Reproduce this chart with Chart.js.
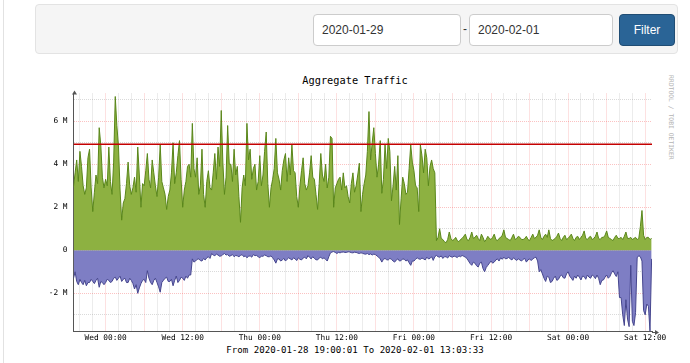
<!DOCTYPE html>
<html><head><meta charset="utf-8">
<script src="https://cdn.jsdelivr.net/npm/chart.js@4.4.1/dist/chart.umd.min.js"></script>
<style>
html,body{margin:0;padding:0;width:690px;height:363px;overflow:hidden;background:#fff;font-family:"Liberation Sans",Arial,sans-serif;}
#leftline{position:absolute;left:3px;top:0;width:1px;height:363px;background:#e2e2e2;}
#panel{position:absolute;left:35px;top:4px;width:643px;height:50px;background:#f5f5f5;border:1px solid #e3e3e3;border-radius:4px;box-sizing:border-box;}
.inp{position:absolute;top:14px;height:32px;box-sizing:border-box;border:1px solid #ccc;border-radius:4px;background:#fff;font-size:12px;padding-left:8px;line-height:30px;color:#333;}
#dash{position:absolute;left:463px;top:22px;font-size:12px;color:#333;}
#btn{position:absolute;left:619px;top:14px;width:56px;height:32px;box-sizing:border-box;background:#2a6496;border:1px solid #204d74;border-radius:4px;color:#fff;font-size:12px;text-align:center;line-height:30px;}
#wrap{position:absolute;left:0;top:0;width:690px;height:363px;}
.mono{position:absolute;font-family:"DejaVu Sans Mono",monospace;color:#000;white-space:nowrap;}
#title{left:0;width:710px;text-align:center;top:74px;font-size:10.3px;}
#foot{left:0;width:710px;text-align:center;top:345px;font-size:9.1px;}
#wm{left:667px;top:75px;font-size:6.4px;color:#b4b4b4;writing-mode:vertical-rl;}
</style></head>
<body>
<div id="leftline"></div>
<div id="panel"></div>
<div class="inp" style="left:313px;width:148px;">2020-01-29</div>
<div id="dash">-</div>
<div class="inp" style="left:469px;width:144px;">2020-02-01</div>
<div id="btn">Filter</div>
<div class="mono" id="title">Aggregate Traffic</div>
<div class="mono" id="foot">From 2020-01-28 19:00:01 To 2020-02-01 13:03:33</div>
<div class="mono" id="wm">RRDTOOL / TOBI OETIKER</div>
<div id="wrap"><canvas id="c"></canvas></div>
<script>
// time axis in hours since 2020-01-28 00:00
const startHour = 19;      // first sample 2020-01-28 19:00
const stepHours = 0.25;    // sample spacing (15 min)
const endHour = 109.06;    // 2020-02-01 13:03:33
const xTickHours = [20,22,24,26,28,30,32,34,36,38,40,42,44,46,48,50,52,54,56,58,60,62,64,66,68,70,72,74,76,78,80,82,84,86,88,90,92,94,96,98,100,102,104,106,108];
const xTickLabels = {24:'Wed 00:00',36:'Wed 12:00',48:'Thu 00:00',60:'Thu 12:00',72:'Fri 00:00',84:'Fri 12:00',96:'Sat 00:00',108:'Sat 12:00'};
const yTicks = [-3,-2,-1,0,1,2,3,4,5,6,7];
const yTickLabels = {'6':'6 M','4':'4 M','2':'2 M','0':'0','-2':'-2 M'};
// traffic in M
const inbound = [
2.96,3.6,4.2,3.2,4.6,3.9,3.0,2.6,2.9,4.3,4.7,2.9,1.8,2.7,3.5,3.1,5.7,4.9,3.4,2.9,
3.3,3.0,4.8,3.2,2.6,4.1,7.15,5.8,4.85,2.8,1.4,2.2,2.4,3.1,4.1,3.0,2.6,2.9,3.4,2.7,
4.8,3.5,2.0,3.1,3.0,3.7,4.5,3.3,2.9,4.2,3.6,3.0,2.5,3.4,4.9,3.2,2.9,2.6,1.9,2.5,
2.8,3.6,5.0,3.1,3.6,4.4,5.1,3.3,2.0,2.8,3.2,3.9,4.0,3.4,5.9,3.8,3.4,4.3,2.6,3.0,
4.7,2.6,2.0,3.2,3.7,2.9,2.8,3.6,4.5,3.3,4.8,3.9,6.5,4.1,2.6,3.4,5.8,4.0,4.0,3.2,
4.7,3.5,3.9,2.5,1.3,2.9,3.5,3.0,5.9,4.2,4.7,3.3,3.8,4.0,2.8,3.2,4.4,3.0,3.5,4.6,
5.5,3.1,2.0,2.9,3.3,3.8,5.2,3.6,3.3,2.8,3.7,4.2,4.5,3.2,4.3,3.5,4.9,3.7,3.6,2.5,
2.0,3.0,3.7,4.3,3.1,2.8,3.0,3.6,4.4,3.4,3.3,2.6,1.9,3.1,4.5,3.5,3.2,4.0,2.9,3.4,
5.3,5.2,2.0,2.9,3.1,3.3,3.4,2.8,3.6,2.9,3.0,2.5,2.2,3.1,3.6,2.7,3.0,3.5,4.05,1.8,
2.6,3.1,3.5,4.6,6.45,4.2,5.0,5.7,4.5,3.4,4.0,5.1,2.65,3.3,4.9,3.8,5.2,4.6,2.3,3.0,
3.9,2.8,4.4,1.2,2.4,3.4,3.1,2.6,2.7,3.8,4.9,4.1,3.7,3.0,2.9,1.8,4.9,4.4,3.6,4.7,
4.3,3.0,3.9,4.2,3.8,3.6,
0.45,0.6,1.0,0.55,0.5,0.4,0.35,0.5,0.85,0.55,0.45,0.5,0.6,0.45,
0.4,0.5,0.55,0.65,0.75,0.5,0.45,0.6,0.85,0.55,0.6,0.7,0.55,0.45,0.75,0.6,0.4,0.5,0.65,0.55,
0.5,0.6,0.75,0.5,0.45,0.55,0.6,0.7,0.95,0.6,0.55,0.5,0.45,0.6,0.75,0.5,0.55,0.65,0.6,0.5,
0.5,0.55,0.65,0.5,0.45,0.6,0.75,0.55,0.6,0.7,0.95,0.6,0.5,0.65,0.75,0.6,0.95,0.55,0.45,0.5,
0.55,0.65,0.8,0.55,0.45,0.6,0.7,0.5,0.55,0.65,0.75,0.55,0.45,0.6,0.65,0.5,0.6,0.7,0.9,0.55,
0.5,0.6,0.65,0.5,0.55,0.65,0.85,0.55,0.5,0.6,0.6,0.7,0.9,0.6,0.55,0.5,0.45,0.6,0.7,0.55,
0.55,0.6,0.5,0.65,0.85,0.55,0.55,0.6,0.5,0.55,0.6,0.5,0.55,1.1,1.85,0.7,0.5,0.6,0.6,0.5,
0.55];
const outbound = [
-1.3,-1.0,-1.45,-1.6,-1.35,-1.5,-1.6,-1.4,-1.65,-1.5,-1.5,-1.35,-1.45,-1.55,-1.4,-1.3,-1.72,-1.45,-1.5,-1.6,
-1.5,-1.35,-1.4,-1.5,-1.45,-1.3,-1.25,-1.4,-1.3,-1.2,-1.45,-1.35,-1.3,-1.5,-1.5,-1.3,-1.4,-1.55,-1.8,-1.6,
-2.0,-1.75,-1.55,-1.4,-1.35,-1.5,-0.95,-1.3,-1.5,-1.6,-1.4,-1.3,-1.5,-1.7,-1.95,-1.5,-1.4,-1.3,-1.25,-1.45,
-1.45,-1.35,-1.65,-1.4,-1.2,-1.5,-1.4,-1.25,-1.3,-1.4,-1.2,-1.3,-1.15,-1.15,-0.4,-0.55,-0.5,-0.42,-0.4,-0.48,
-0.5,-0.38,-0.45,-0.35,-0.3,-0.38,-0.15,-0.22,-0.25,-0.18,-0.22,-0.28,-0.26,-0.2,-0.15,-0.22,-0.2,-0.28,-0.25,-0.2,
-0.3,-0.24,-0.26,-0.3,-0.24,-0.2,-0.3,-0.26,-0.35,-0.28,-0.26,-0.32,-0.2,-0.25,-0.24,-0.3,-0.35,-0.27,-0.28,-0.22,
-0.25,-0.3,-0.3,-0.26,-0.35,-0.45,-0.6,-0.4,-0.4,-0.5,-0.45,-0.38,-0.5,-0.42,-0.35,-0.4,-0.45,-0.35,-0.4,-0.48,
-0.35,-0.42,-0.45,-0.36,-0.32,-0.4,-0.25,-0.33,-0.4,-0.3,-0.38,-0.44,-0.45,-0.36,-0.32,-0.4,-0.35,-0.42,-0.5,-0.3,
-0.12,-0.08,-0.06,-0.1,-0.15,-0.1,-0.12,-0.09,-0.08,-0.1,-0.1,-0.07,-0.08,-0.11,-0.12,-0.09,-0.1,-0.13,-0.15,-0.12,
-0.14,-0.17,-0.18,-0.15,-0.2,-0.17,-0.22,-0.18,-0.2,-0.26,-0.32,-0.4,-0.55,-0.42,-0.38,-0.44,-0.45,-0.38,-0.42,-0.5,
-0.55,-0.45,-0.4,-0.5,-0.48,-0.4,-0.42,-0.5,-0.45,-0.58,-0.7,-0.5,-0.5,-0.42,-0.35,-0.4,-0.42,-0.36,-0.4,-0.45,
-0.32,-0.4,-0.38,-0.3,-0.47,-0.3,-0.24,-0.3,-0.32,-0.26,-0.38,-0.3,-0.3,-0.36,-0.25,-0.3,-0.32,-0.27,-0.3,-0.34,
-0.26,-0.3,-0.24,-0.28,-0.32,-0.38,-0.5,-0.62,-0.7,-0.55,-0.6,-0.72,-0.78,-0.6,-0.55,-0.85,-1.0,-0.8,-0.7,-0.6,
-0.5,-0.6,-0.55,-0.45,-0.4,-0.5,-0.35,-0.42,-0.32,-0.4,-0.38,-0.33,-0.4,-0.45,-0.35,-0.42,-0.47,-0.4,-0.45,-0.5,
-0.42,-0.38,-0.55,-0.45,-0.4,-0.48,-0.4,-0.35,-0.32,-0.5,-1.0,-0.9,-1.1,-1.3,-1.45,-1.2,-1.25,-1.5,-1.45,-1.3,
-1.2,-1.4,-1.35,-1.2,-1.15,-1.28,-1.3,-1.1,-1.0,-1.2,-1.3,-1.4,-1.2,-1.3,-1.15,-1.25,-1.38,-1.2,-1.22,-1.35,
-1.15,-1.25,-1.3,-1.15,-1.2,-1.32,-1.15,-1.3,-1.6,-1.4,-1.38,-1.25,-1.15,-1.3,-1.22,-1.05,-0.95,-1.1,-1.22,-1.0,
-2.2,-2.2,-3.0,-3.5,-2.3,-3.2,-3.55,-0.7,-3.3,-3.5,-2.9,-0.35,-0.25,-0.3,-0.5,-2.8,-3.0,-2.5,-2.6,-3.75,
-0.4];
const thresholdM = 4.93;

const toPts = arr => arr.map((v,i)=>({x:startHour+i*stepHours,y:v}));
const MAJOR = 'rgba(240,0,0,0.24)';
const MINOR = 'rgba(140,140,140,0.32)';
const AXIS = '#555';

const arrows = {
  id:'arrows',
  afterDraw(chart){
    const {ctx, chartArea:a} = chart;
    ctx.save();
    ctx.fillStyle = AXIS; ctx.strokeStyle = AXIS; ctx.lineWidth = 1;
    const yb = Math.round(a.bottom)+0.5, xl = Math.round(a.left)+0.5;
    ctx.beginPath(); ctx.moveTo(a.right, yb); ctx.lineTo(a.right+4, yb); ctx.stroke();
    ctx.beginPath(); ctx.moveTo(a.right+7, yb); ctx.lineTo(a.right+3, yb-2.5); ctx.lineTo(a.right+3, yb+2.5); ctx.closePath(); ctx.fill();
    ctx.beginPath(); ctx.moveTo(xl, a.top); ctx.lineTo(xl, a.top-1); ctx.stroke();
    ctx.beginPath(); ctx.moveTo(xl, a.top-3); ctx.lineTo(xl-2.5, a.top+1); ctx.lineTo(xl+2.5, a.top+1); ctx.closePath(); ctx.fill();
    ctx.restore();
  }
};

new Chart(document.getElementById('c'), {
  type:'line',
  data:{datasets:[
    {label:'threshold', data:[{x:startHour,y:thresholdM},{x:endHour,y:thresholdM}], borderColor:'#c40000', borderWidth:1.5, fill:false, order:0},
    {label:'In', data:toPts(inbound), borderColor:'#5a871b', backgroundColor:'#8db141', borderWidth:1, fill:'origin', order:1},
    {label:'Out', data:toPts(outbound), borderColor:'#46468e', backgroundColor:'#7e7ec4', borderWidth:1, fill:'origin', order:2}
  ]},
  options:{
    responsive:true, maintainAspectRatio:false, animation:false,
    layout:{padding:{top:93.5,right:38,left:0,bottom:0}},
    elements:{point:{radius:0}, line:{tension:0}},
    plugins:{legend:{display:false}, tooltip:{enabled:false}, title:{display:false}},
    scales:{
      x:{type:'linear', min:startHour, max:endHour, z:1,
        afterBuildTicks:s=>{s.ticks = xTickHours.map(v=>({value:v}));},
        afterFit:s=>{s.height = 31.3;},
        ticks:{autoSkip:false, maxRotation:0, padding:2, color:'#000',
          font:{family:'DejaVu Sans Mono', size:7.8},
          callback:v=>xTickLabels[v]||''},
        grid:{drawTicks:false, lineWidth:1, color:c=>(c.tick && c.tick.value%6===0)?MAJOR:MINOR},
        border:{display:true, color:AXIS, width:1, dash:[1,1]}
      },
      y:{type:'linear', min:-3.786, max:7.29, z:1,
        afterBuildTicks:s=>{s.ticks = yTicks.map(v=>({value:v}));},
        afterFit:s=>{s.width = 73.5;},
        ticks:{padding:6, color:'#000', font:{family:'DejaVu Sans Mono', size:7.8},
          callback:v=>yTickLabels[String(v)]||''},
        grid:{drawTicks:false, lineWidth:1, color:c=>(c.tick && c.tick.value%2===0)?MAJOR:MINOR},
        border:{display:true, color:AXIS, width:1, dash:[1,1]}
      }
    }
  },
  plugins:[arrows]
});
</script>
</body></html>
